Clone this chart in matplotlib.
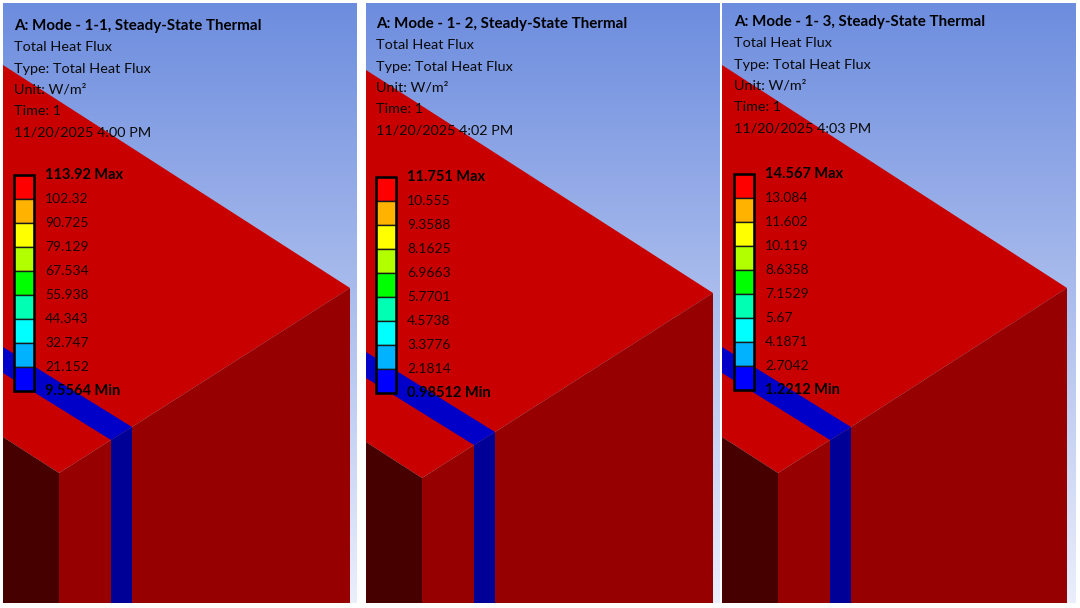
import numpy as np
import matplotlib.pyplot as plt
from matplotlib.patches import Rectangle

plt.rcParams['font.family'] = ['Lato', 'DejaVu Sans']

titles = ["A: Mode - 1-1, Steady-State Thermal",
          "A: Mode - 1- 2, Steady-State Thermal",
          "A: Mode - 1- 3, Steady-State Thermal"]
subtitle = "Total Heat Flux"
type_line = "Type: Total Heat Flux"
unit_line = "Unit: W/m\u00b2"
time_line = "Time: 1"
dates = ["11/20/2025 4:00 PM", "11/20/2025 4:02 PM", "11/20/2025 4:03 PM"]

levels1 = ["113.92", "102.32", "90.725", "79.129", "67.534", "55.938", "44.343", "32.747", "21.152", "9.5564"]
levels2 = ["11.751", "10.555", "9.3588", "8.1625", "6.9663", "5.7701", "4.5738", "3.3776", "2.1814", "0.98512"]
levels3 = ["14.567", "13.084", "11.602", "10.119", "8.6358", "7.1529", "5.67", "4.1871", "2.7042", "1.2212"]
levels = [levels1, levels2, levels3]

band_colors = ['#ff0000', '#ffb200', '#ffff00', '#b2ff00', '#00ff00',
               '#00ffb2', '#00ffff', '#00b2ff', '#0000ff']

# panel placement in pixels: left, right, block right edge, geometry shift, text x, text y, legend top
panels = [
    dict(x0=3, x1=357, xb=350, dy=0, tx=14, ty=26, lt=175),
    dict(x0=366, x1=720, xb=713, dy=5, tx=376, ty=24, lt=177),
    dict(x0=722, x1=1076, xb=1067, dy=0, tx=734, ty=22, lt=174),
]
TOP, BOT = 3, 603

top_red = '#c80000'
side_red = '#960000'
dark_red = '#470000'
band_blue = '#0000c8'
strip_blue = '#000096'


def draw_panel(ax, p, title, date, lev):
    x0, x1, xb, dy = p['x0'], p['x1'], p['xb'], p['dy']
    # background gradient
    top_c = np.array([108, 140, 222]) / 255
    bot_c = np.array([236, 240, 252]) / 255
    frac = (np.linspace(TOP, BOT, 300) / 608)[:, None]
    img = top_c + (bot_c - top_c) * frac
    img = np.repeat(img[:, None, :], 2, axis=1)
    ax.imshow(img, extent=[x0, x1, BOT, TOP], aspect='auto', interpolation='bilinear', zorder=0)

    def P(pts):
        return [x0 + px for px, py in pts], [py + dy for px, py in pts]

    w = xb - x0
    # top face
    xs, ys = P([(0, 65), (w, 288), (129, 427), (108, 440), (56, 473), (0, 437)])
    ax.fill(xs, ys, color=top_red, lw=0, zorder=1)
    # blue band on top face
    xs, ys = P([(0, 347), (129, 427), (108, 440), (0, 373)])
    ax.fill(xs, ys, color=band_blue, lw=0, zorder=2)
    # right face
    xs, ys = P([(129, 427), (w, 288), (w, BOT - dy), (129, BOT - dy)])
    ax.fill(xs, ys, color=side_red, lw=0, zorder=2)
    # vertical blue strip
    xs, ys = P([(108, 440), (129, 427), (129, BOT - dy), (108, BOT - dy)])
    ax.fill(xs, ys, color=strip_blue, lw=0, zorder=2)
    # middle face
    xs, ys = P([(56, 473), (108, 440), (108, BOT - dy), (56, BOT - dy)])
    ax.fill(xs, ys, color=side_red, lw=0, zorder=2)
    # left face
    xs, ys = P([(0, 437), (56, 473), (56, BOT - dy), (0, BOT - dy)])
    ax.fill(xs, ys, color=dark_red, lw=0, zorder=2)

    # header text
    tx, ty = p['tx'], p['ty']
    ax.text(tx, ty, title, fontsize=10.9, fontweight='bold', va='center', ha='left', zorder=5)
    lines = [subtitle, type_line, unit_line, time_line, date]
    for i, s in enumerate(lines):
        ax.text(tx, ty + 21.3 * (i + 1), s, fontsize=10.4, va='center', ha='left', color='#0a0a0a', zorder=5)

    # legend
    lt = p['lt']
    h = 216 / 9
    lx = tx
    for i, c in enumerate(band_colors):
        ax.add_patch(Rectangle((lx, lt + i * h), 20, h, facecolor=c, edgecolor='#1a1a1a', lw=1.0, zorder=5))
    ax.add_patch(Rectangle((lx, lt), 20, 9 * h, facecolor='none', edgecolor='black', lw=1.8, zorder=6))
    for i, s in enumerate(lev):
        if i == 0:
            ax.text(lx + 31, lt + i * h, s + " Max", fontsize=10.5, fontweight='bold', va='center', zorder=6)
        elif i == len(lev) - 1:
            ax.text(lx + 31, lt + i * h, s + " Min", fontsize=10.5, fontweight='bold', va='center', zorder=6)
        else:
            ax.text(lx + 31, lt + i * h, s, fontsize=10.0, va='center', color='#1a0000', zorder=6)


fig = plt.figure(figsize=(10.8, 6.08), dpi=100)
ax = fig.add_axes([0, 0, 1, 1])
ax.set_xlim(0, 1080)
ax.set_ylim(608, 0)
ax.axis('off')

for p, t, d, lev in zip(panels, titles, dates, levels):
    draw_panel(ax, p, t, d, lev)

fig.savefig('out.png', dpi=100, facecolor='white')
